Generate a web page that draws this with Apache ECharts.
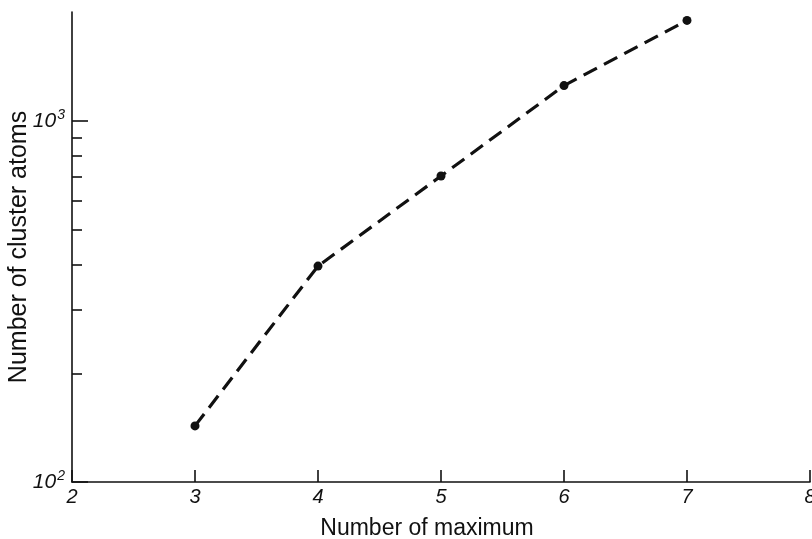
<!DOCTYPE html>
<html>
<head>
<meta charset="utf-8">
<script src="https://cdn.jsdelivr.net/npm/echarts@6/dist/echarts.min.js"></script>
<style>
html,body{margin:0;padding:0;background:#fff;}
#chart{width:812px;height:539px;}
</style>
</head>
<body>
<div id="chart"></div>
<script>
const xTicks = [2, 3, 4, 5, 6, 7, 8];
const maxima = [3, 4, 5, 6, 7];
const atoms = [143, 396, 703, 1251, 1896];
const yMajor = [100, 1000];
const yMinor = [200, 300, 400, 500, 600, 700, 800, 900];
const yExp = {100: '2', 1000: '3'};
const xTitle = 'Number of maximum';
const yTitle = 'Number of cluster atoms';

const font = 'Liberation Sans, Arial, Helvetica, sans-serif';
const chart = echarts.init(document.getElementById('chart'));
chart.setOption({
  animation: false,
  backgroundColor: '#fff',
  grid: {left: 72, right: 2, top: 12, bottom: 57, containLabel: false, outerBoundsMode: 'none'},
  xAxis: {
    type: 'value', min: xTicks[0], max: xTicks[xTicks.length - 1], interval: 1,
    name: xTitle, nameLocation: 'middle', nameGap: 35, nameMoveOverlap: false,
    nameTextStyle: {fontFamily: font, fontSize: 23, color: '#111', padding: [0, 28, 0, 0]},
    axisLine: {lineStyle: {color: '#111', width: 1.6}},
    axisTick: {inside: true, length: 12, lineStyle: {color: '#111', width: 1.6}},
    axisLabel: {fontFamily: font, fontSize: 20, fontStyle: 'italic', color: '#111', margin: 5},
    splitLine: {show: false}
  },
  yAxis: [{
    type: 'log', logBase: 10, min: 100, max: 2000,
    name: yTitle, nameLocation: 'middle', nameGap: 40, nameMoveOverlap: false,
    nameTextStyle: {fontFamily: font, fontSize: 25, color: '#111'},
    axisLine: {show: true, lineStyle: {color: '#111', width: 1.6}},
    axisTick: {inside: true, length: 16, customValues: yMajor, lineStyle: {color: '#111', width: 1.6}},
    axisLabel: {
      customValues: yMajor, margin: 7,
      formatter: v => '{b|10}{s|' + (yExp[Math.round(v)] || '') + '}',
      rich: {
        b: {fontFamily: font, fontSize: 21, fontStyle: 'italic', color: '#111'},
        s: {fontFamily: font, fontSize: 14, fontStyle: 'italic', color: '#111', padding: [0, 0, 11, 1]}
      }
    },
    splitLine: {show: false}
  }, {
    type: 'log', logBase: 10, min: 100, max: 2000, position: 'left', offset: 0,
    axisLine: {show: false},
    axisTick: {show: true, inside: true, length: 10, customValues: yMinor, lineStyle: {color: '#111', width: 1.6}},
    axisLabel: {show: false},
    splitLine: {show: false}
  }],
  series: [{
    type: 'line',
    yAxisIndex: 0,
    data: maxima.map((m, i) => [m, atoms[i]]),
    symbol: 'circle', symbolSize: 9,
    itemStyle: {color: '#111'},
    lineStyle: {color: '#111', width: 3.2, type: [15, 8]}
  }]
});
</script>
</body>
</html>
